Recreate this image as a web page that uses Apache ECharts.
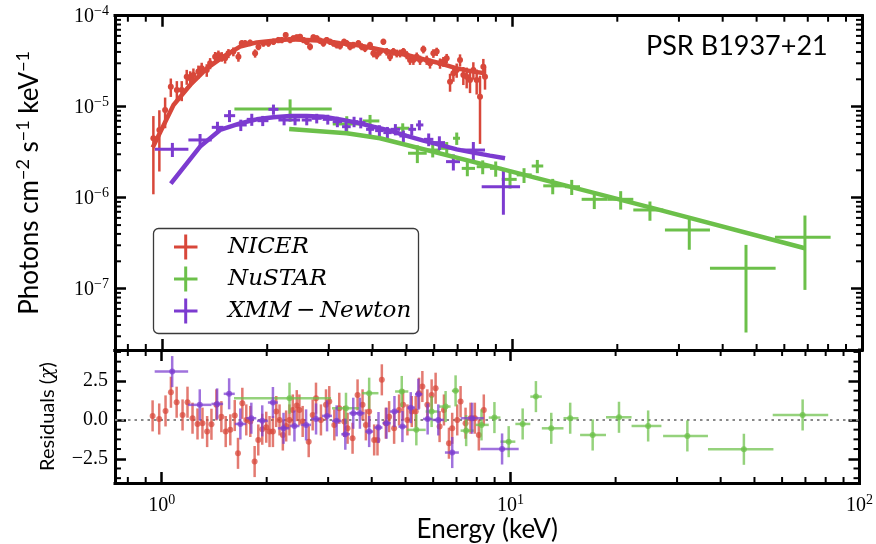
<!DOCTYPE html>
<html><head><meta charset="utf-8">
<script src="https://cdn.jsdelivr.net/npm/echarts@6/dist/echarts.min.js"></script>
<style>html,body{margin:0;padding:0;background:#fff}#c{width:876px;height:544px}</style>
</head><body><div id="c"></div>
<script>
// ---------------- data ----------------
const nicerE = [0.946,0.984,1.022,1.061,1.104,1.140,1.178,1.205,1.231,1.272,1.300,1.344,1.374,1.420,1.451,1.483,1.516,1.550,1.601,1.655,1.692,1.729,1.787,1.847,1.888,1.951,2.016,2.084,2.153,2.201,2.259,2.325,2.376,2.429,2.483,2.537,2.594,2.651,2.710,2.770,2.831,2.894,2.958,3.024,3.091,3.159,3.229,3.316,3.374,3.449,3.525,3.643,3.724,3.806,3.933,4.020,4.109,4.201,4.294,4.389,4.486,4.586,4.688,4.791,4.898,5.006,5.117,5.231,5.347,5.465,5.586,5.710,5.836,5.966,6.098,6.233,6.371,6.512,6.657,6.804,6.955,7.109,7.266,7.427,7.592,7.760,7.932,8.108,8.287,8.379];
const nicerF = [4.49e-6,5.54e-6,9.20e-6,1.66e-5,1.53e-5,1.53e-5,2.14e-5,2.05e-5,2.23e-5,2.43e-5,
 2.64e-5,2.53e-5,3.00e-5,3.55e-5,3.70e-5,3.55e-5,3.40e-5,3.86e-5,4.03e-5,3.55e-5,
 4.97e-5,4.97e-5,5.05e-5,3.86e-5,4.57e-5,4.97e-5,4.97e-5,5.18e-5,5.41e-5,5.41e-5,
 6.14e-5,5.41e-5,5.64e-5,5.78e-5,5.88e-5,5.41e-5,5.18e-5,4.57e-5,5.78e-5,5.64e-5,
 5.32e-5,4.97e-5,5.41e-5,5.18e-5,4.97e-5,4.76e-5,4.65e-5,5.18e-5,4.97e-5,4.57e-5,
 4.76e-5,4.97e-5,4.57e-5,4.38e-5,4.76e-5,3.86e-5,3.70e-5,4.03e-5,5.18e-5,4.03e-5,
 3.55e-5,4.03e-5,3.86e-5,3.86e-5,4.03e-5,3.70e-5,3.26e-5,3.26e-5,3.55e-5,3.26e-5,
 4.27e-5,3.26e-5,3.00e-5,3.86e-5,4.03e-5,3.00e-5,3.13e-5,3.40e-5,1.88e-5,2.33e-5,
 2.53e-5,3.26e-5,2.23e-5,2.14e-5,1.96e-5,2.53e-5,1.96e-5,1.29e-5,2.75e-5,2.14e-5];
const nicerErr = [3.4e-6,3.6e-6,3.4e-6,3.8e-6,3.8e-6,3.8e-6,4.0e-6,4.0e-6,4.0e-6,4.0e-6,
 4.0e-6,4.0e-6,4.2e-6,4.4e-6,4.4e-6,4.3e-6,4.2e-6,4.4e-6,4.5e-6,4.3e-6,
 4.2e-6,4.2e-6,4.2e-6,4.0e-6,4.0e-6,4.2e-6,4.2e-6,4.2e-6,4.3e-6,4.3e-6,
 4.4e-6,4.3e-6,4.3e-6,4.3e-6,4.3e-6,4.2e-6,4.2e-6,4.0e-6,4.3e-6,4.3e-6,
 4.2e-6,4.1e-6,4.2e-6,4.1e-6,4.1e-6,4.0e-6,4.0e-6,4.1e-6,4.1e-6,4.0e-6,
 4.0e-6,4.1e-6,4.0e-6,4.0e-6,4.0e-6,3.8e-6,3.8e-6,3.9e-6,4.1e-6,3.9e-6,
 3.8e-6,3.9e-6,3.8e-6,3.8e-6,3.9e-6,3.8e-6,3.8e-6,3.8e-6,3.9e-6,3.8e-6,
 4.2e-6,3.8e-6,3.8e-6,4.2e-6,4.2e-6,3.9e-6,3.9e-6,4.0e-6,4.2e-6,4.5e-6,
 4.5e-6,5.0e-6,5.0e-6,5.5e-6,5.5e-6,5.5e-6,6.0e-6,9.0e-6,6.0e-6,6.0e-6];

const nicerResE = [0.942,0.984,1.026,1.063,1.104,1.148,1.186,1.226,1.267,1.309,1.350,1.389,1.435,1.483,1.526,1.573,1.620,1.655,1.703,1.748,1.795,1.847,1.892,1.942,1.994,2.038,2.084,2.130,2.177,2.225,2.274,2.324,2.376,2.439,2.482,2.536,2.639,2.709,2.769,2.861,2.958,3.023,3.125,3.229,3.337,3.411,3.525,3.643,3.765,3.848,3.933,4.065,4.155,4.276,4.390,4.486,4.637,4.791,4.919,5.062,5.209,5.347,5.466,5.587,5.774,5.940,6.098,6.260,6.442,6.658,6.803,7.033,7.190,7.429,7.678,7.900,8.110,8.380];
const nicerRes = [0.26,0.06,0.58,1.78,1.14,0.32,1.14,0.11,-0.26,-0.21,
 -0.75,-0.28,0.97,0.21,-0.75,-0.64,0.28,-2.15,1.07,0.00,
 -0.10,-2.68,-1.29,-0.60,-0.47,-0.75,-0.75,0.54,0.00,-0.97,
 -0.39,0.00,0.64,0.92,0.64,-0.10,-1.40,0.32,1.40,0.00,
 0.97,1.18,-0.32,0.75,-0.10,-0.54,-1.18,1.61,0.97,-0.32,
 0.54,-1.29,-1.29,2.58,-0.21,0.21,-0.54,0.64,0.97,0.00,
 0.54,0.54,1.72,2.15,0.97,1.61,2.04,-0.43,0.64,-1.50,
 -0.54,0.00,1.18,-0.21,0.11,0.11,-0.97,0.64];

const xmmE   = [1.072,1.286,1.442,1.561,1.681,1.807,1.942,2.084,2.235,2.402,2.594,2.770,2.979,3.173,3.360,3.541,3.700,3.933,4.183,4.409,4.647,4.898,5.174,5.442,5.785,6.206,6.804,7.760,9.455];
const xmmELo = [0.955,1.191,1.389,1.506,1.620,1.748,1.876,2.016,2.153,2.325,2.510,2.680,2.881,3.077,3.272,3.449,3.604,3.832,4.067,4.294,4.506,4.770,5.062,5.324,5.610,5.966,6.484,7.190,8.197];
const xmmEHi = [1.191,1.389,1.500,1.620,1.748,1.867,2.016,2.153,2.325,2.483,2.680,2.862,3.077,3.272,3.464,3.643,3.815,4.040,4.294,4.536,4.791,5.040,5.324,5.586,5.966,6.442,7.109,8.379,10.55];
const xmmF   = [3.40e-6,4.31e-6,5.93e-6,7.97e-6,6.30e-6,7.26e-6,7.02e-6,9.35e-6,7.14e-6,7.14e-6,7.14e-6,7.45e-6,7.26e-6,6.85e-6,6.03e-6,6.85e-6,6.68e-6,5.64e-6,5.46e-6,5.19e-6,5.64e-6,4.77e-6,5.64e-6,6.30e-6,4.38e-6,4.03e-6,2.49e-6,3.34e-6,1.32e-6];
const xmmErr = [0.6e-6,0.7e-6,0.9e-6,1.2e-6,0.9e-6,1.1e-6,0.9e-6,1.2e-6,0.9e-6,0.9e-6,0.9e-6,0.9e-6,0.9e-6,0.9e-6,0.8e-6,0.9e-6,0.9e-6,0.8e-6,0.8e-6,0.8e-6,0.8e-6,0.7e-6,0.8e-6,0.8e-6,0.7e-6,0.7e-6,0.5e-6,0.75e-6,0.67e-6];
const xmmRes = [3.11,0.97,1.03,1.68,-0.26,0.11,-0.06,1.12,-0.54,-0.39,-0.32,0.06,0.26,-0.06,-0.92,0.43,0.43,-0.75,-0.49,-0.21,0.54,-0.43,0.79,1.65,0.06,0.00,-2.10,0.11,-1.87];

const nustarE   = [2.325,3.375,3.933,4.877,5.369,5.940,6.513,6.957,7.459,8.253,8.989,9.876,10.83,11.82,13.08,14.82,17.19,20.45,24.79,32.11,46.63,68.71];
const nustarELo = [1.612,3.078,3.750,4.667,5.050,5.711,6.233,6.789,7.190,7.934,8.659,9.352,10.32,11.39,12.29,14.18,15.82,18.77,22.22,27.36,36.79,56.40];
const nustarEHi = [3.058,3.684,4.182,5.093,5.711,6.233,6.731,7.109,7.845,8.659,9.352,10.32,11.39,12.29,14.18,15.65,18.77,22.22,27.06,36.79,56.66,81.35];
const nustarF   = [9.43e-6,6.46e-6,6.97e-6,5.80e-6,3.08e-6,3.34e-6,3.49e-6,4.50e-6,2.10e-6,2.19e-6,2.10e-6,1.59e-6,1.78e-6,2.23e-6,1.35e-6,1.32e-6,9.60e-7,9.60e-7,7.33e-7,4.42e-7,1.68e-7,3.67e-7];
const nustarErr = [2.6e-6,1.4e-6,1.15e-6,0.77e-6,0.68e-6,0.57e-6,0.6e-6,0.7e-6,0.38e-6,0.38e-6,0.4e-6,0.33e-6,0.33e-6,0.37e-6,0.26e-6,0.25e-6,0.21e-6,0.22e-6,0.175e-6,0.174e-6,0.135e-6,0.27e-6];
const nustarRes = [1.40,0.75,1.72,1.83,-0.64,0.54,0.86,1.87,-0.69,-0.32,0.15,-1.40,-0.26,1.50,-0.54,0.11,-0.97,0.17,-0.39,-1.03,-1.89,0.32];

const nicerModelE = [0.942,1.080,1.205,1.344,1.500,1.673,1.867,2.084,2.325,2.594,2.894,3.229,3.603,4.020,4.486,5.006,5.586,6.233,6.955,7.760,8.379];
const nicerModelF = [3.57e-6,1.045e-5,1.73e-5,2.64e-5,3.55e-5,4.57e-5,5.09e-5,5.32e-5,5.50e-5,5.41e-5,5.32e-5,4.97e-5,4.77e-5,4.38e-5,4.02e-5,3.70e-5,3.32e-5,3.00e-5,2.64e-5,2.43e-5,2.33e-5];
const xmmModelE = [1.061,1.286,1.467,1.673,1.867,2.084,2.325,2.594,2.894,3.229,3.603,4.020,4.486,5.006,5.586,6.233,6.955,7.760,8.658,9.559];
const xmmModelF = [1.43e-6,3.64e-6,5.55e-6,6.56e-6,7.26e-6,7.64e-6,7.91e-6,7.91e-6,7.77e-6,7.26e-6,6.68e-6,6.03e-6,5.46e-6,4.77e-6,4.24e-6,3.80e-6,3.40e-6,3.13e-6,2.90e-6,2.71e-6];
const nustarModelE = [2.311,3.375,4.20,9.56,24.8,68.7];
const nustarModelF = [5.69e-6,5.10e-6,4.50e-6,2.02e-6,7.84e-7,2.78e-7];

// tick values
const xMinorTicks = [0.8,0.9,2,3,4,5,6,7,8,9,20,30,40,50,60,70,80,90];
const yMinorTicks = [3e-8,4e-8,5e-8,6e-8,7e-8,8e-8,9e-8,2e-7,3e-7,4e-7,5e-7,6e-7,7e-7,8e-7,9e-7,2e-6,3e-6,4e-6,5e-6,6e-6,7e-6,8e-6,9e-6,2e-5,3e-5,4e-5,5e-5,6e-5,7e-5,8e-5,9e-5];
const resMajorTicks = [-2.5,0,2.5];
const resMinorTicks = [-3.75,-3.125,-1.875,-1.25,-0.625,0.625,1.25,1.875,3.125,3.75,4.375];
const seriesNames = ['NICER','NuSTAR','XMM\u2009\u2212\u2009Newton'];

// ---------------- layout / style ----------------
const X_MIN = 0.735, X_MAX = 100, Y_MIN = 2.12e-8, Y_MAX = 1e-4, R_MIN = -4.06, R_MAX = 4.5;
const RED = '#d8473a', GREEN = '#6cc04a', PURPLE = '#7c3bd0';
const RED_A = 'rgba(216,71,58,0.72)', GREEN_A = 'rgba(108,192,74,0.72)', PURPLE_A = 'rgba(124,59,208,0.72)';
const SERIF = 'Liberation Serif', SANS = 'Lato';

const chart = echarts.init(document.getElementById('c'), null, {renderer: 'canvas'});

const spine = {show: true, onZero: false, lineStyle: {color: '#000', width: 3, cap: 'square'}};
const majorTick = {show: true, inside: true, length: 11, lineStyle: {color: '#000', width: 2.5}};
function powLabel(v) {
  const l = Math.log10(v), p = Math.round(l);
  if (Math.abs(l - p) > 1e-6) return '';
  return '{b|10}{s|' + (p < 0 ? '\u2212' : '') + Math.abs(p) + '}';
}
const powRich = {
  b: {fontFamily: SERIF, fontSize: 20, color: '#000', verticalAlign: 'bottom'},
  s: {fontFamily: SERIF, fontSize: 14, color: '#000', verticalAlign: 'bottom', padding: [0, 0, 9, 0]}
};
function xLog(grid, pos, labels) {
  const a = {type: 'log', logBase: 10, gridIndex: grid, position: pos, min: X_MIN, max: X_MAX,
    axisLine: spine, axisTick: majorTick, splitLine: {show: false}, minorTick: {show: false},
    axisLabel: {show: false}};
  if (labels) {
    a.axisLabel = {show: true, margin: 10, formatter: powLabel, rich: powRich};
    a.name = 'Energy (keV)'; a.nameLocation = 'middle'; a.nameGap = 19;
    a.nameTextStyle = {fontFamily: SANS, fontSize: 26, color: '#000', verticalAlign: 'top'};
  }
  return a;
}
const xAxes = [xLog(0, 'bottom', false), xLog(0, 'top', false), xLog(1, 'bottom', true), xLog(1, 'top', false)];

function yLog(pos, labels) {
  const a = {type: 'log', logBase: 10, gridIndex: 0, position: pos, min: Y_MIN, max: Y_MAX,
    axisLine: spine, axisTick: majorTick, splitLine: {show: false}, minorTick: {show: false},
    axisLabel: {show: false}};
  if (labels) {
    a.axisLabel = {show: true, margin: 6, formatter: powLabel, rich: powRich};
    a.name = '{n|Photons cm}{s|\u22122}{n| s}{s|\u22121}{n| keV}{s|\u22121}';
    a.nameLocation = 'middle'; a.nameGap = 72; a.nameRotate = 90;
    a.nameTextStyle = {rich: {
      n: {fontFamily: SANS, fontSize: 26, color: '#000', verticalAlign: 'bottom'},
      s: {fontFamily: SANS, fontSize: 18, color: '#000', verticalAlign: 'bottom', padding: [0, 0, 11, 0]}
    }};
  }
  return a;
}
function yRes(pos, labels) {
  const a = {type: 'value', gridIndex: 1, position: pos, min: R_MIN, max: R_MAX,
    axisLine: spine, axisTick: Object.assign({}, majorTick, {customValues: resMajorTicks}),
    splitLine: {show: false}, axisLabel: {show: false}};
  if (labels) {
    a.axisLabel = {show: true, margin: 7, customValues: resMajorTicks, fontFamily: SERIF, fontSize: 20, color: '#000',
      formatter: v => (v < 0 ? '\u2212' : '') + Math.abs(v).toFixed(1)};
    a.name = '{n|Residuals (}{i|\u03c7}{n|)}';
    a.nameLocation = 'middle'; a.nameGap = 57; a.nameRotate = 90;
    a.nameTextStyle = {rich: {
      n: {fontFamily: SANS, fontSize: 20, color: '#000'},
      i: {fontFamily: 'DejaVu Serif', fontStyle: 'italic', fontSize: 19, color: '#000'}
    }};
  }
  return a;
}
const yAxes = [yLog('left', true), yLog('right', false), yRes('left', true), yRes('right', false)];

function errRender(color, lw, r, floor) {
  return function (params, api) {
    const e = api.value(0), f = api.value(1), lo = api.value(2), hi = api.value(3), s = api.value(4);
    const c = api.coord([e, f]);
    const top = api.coord([e, f + s])[1];
    const bot = api.coord([e, floor === null ? f - s : Math.max(f - s, floor)])[1];
    const ch = [{type: 'line', shape: {x1: c[0], y1: top, x2: c[0], y2: bot}, style: {stroke: color, lineWidth: lw}}];
    if (hi > lo) {
      const xl = api.coord([lo, f])[0], xh = api.coord([hi, f])[0];
      ch.push({type: 'line', shape: {x1: xl, y1: c[1], x2: xh, y2: c[1]}, style: {stroke: color, lineWidth: lw}});
    }
    if (r > 0) ch.push({type: 'circle', shape: {cx: c[0], cy: c[1], r: r}, style: {fill: color}});
    return {type: 'group', children: ch};
  };
}
function errSeries(name, grid, data, render, z) {
  return {type: 'custom', name: name, xAxisIndex: grid * 2, yAxisIndex: grid * 2, data: data,
    encode: {x: 0, y: 1}, renderItem: render, silent: true, z: z, animation: false};
}
function tickSeries(grid, xt, yt, xRef, yRef) {
  const kinds = [], data = [];
  xt.forEach(v => { kinds.push('x'); data.push([v, yRef]); });
  yt.forEach(v => { kinds.push('y'); data.push([xRef, v]); });
  return {type: 'custom', xAxisIndex: grid * 2, yAxisIndex: grid * 2, data: data, silent: true, z: 20,
    encode: {x: 0, y: 1},
    renderItem: function (params, api) {
      const cs = params.coordSys, k = kinds[params.dataIndex];
      const p = api.coord([api.value(0), api.value(1)]);
      const L = 6, segs = k === 'x'
        ? [[p[0], cs.y + cs.height, p[0], cs.y + cs.height - L], [p[0], cs.y, p[0], cs.y + L]]
        : [[cs.x, p[1], cs.x + L, p[1]], [cs.x + cs.width, p[1], cs.x + cs.width - L, p[1]]];
      return {type: 'group', children: segs.map(s => ({type: 'line',
        shape: {x1: s[0], y1: s[1], x2: s[2], y2: s[3]}, style: {stroke: '#000', lineWidth: 2}}))};
    }};
}
function modelSeries(name, E, F, color) {
  return {type: 'line', name: name, xAxisIndex: 0, yAxisIndex: 0, data: E.map((e, i) => [e, F[i]]),
    showSymbol: false, symbol: 'none', lineStyle: {color: color, width: 4.5}, silent: true, z: 8, animation: false};
}

const series = [
  errSeries(seriesNames[0], 0, nicerE.map((e, i) => [e, nicerF[i], e, e, nicerErr[i]]), errRender(RED, 2.5, 3, Y_MIN), 3),
  errSeries(seriesNames[1], 0, nustarE.map((e, i) => [e, nustarF[i], nustarELo[i], nustarEHi[i], nustarErr[i]]), errRender(GREEN, 3, 0, Y_MIN), 4),
  errSeries(seriesNames[2], 0, xmmE.map((e, i) => [e, xmmF[i], xmmELo[i], xmmEHi[i], xmmErr[i]]), errRender(PURPLE, 3, 0, Y_MIN), 5),
  modelSeries('NICER model', nicerModelE, nicerModelF, RED),
  modelSeries('NuSTAR model', nustarModelE, nustarModelF, GREEN),
  modelSeries('XMM model', xmmModelE, xmmModelF, PURPLE),
  tickSeries(0, xMinorTicks, yMinorTicks, 1, 1e-6),
  {type: 'line', xAxisIndex: 2, yAxisIndex: 2, data: [[X_MIN, 0], [X_MAX, 0]], showSymbol: false, symbol: 'none',
    lineStyle: {color: '#888', width: 2, type: [2.5, 4]}, silent: true, z: 2, animation: false},
  errSeries('NICER res', 1, nicerResE.map((e, i) => [e, nicerRes[i], e, e, 1]), errRender(RED_A, 2.5, 3, null), 3),
  errSeries('NuSTAR res', 1, nustarE.map((e, i) => [e, nustarRes[i], nustarELo[i], nustarEHi[i], 1]), errRender(GREEN_A, 2.5, 3, null), 4),
  errSeries('XMM res', 1, xmmE.map((e, i) => [e, xmmRes[i], xmmELo[i], xmmEHi[i], 1]), errRender(PURPLE_A, 2.5, 3, null), 5),
  tickSeries(1, xMinorTicks, resMinorTicks, 1, 0)
];

// legend drawn as graphic (box, error-bar crosses, italic math-style names)
const legendColors = [RED, GREEN, PURPLE];
const legendY = [247, 279, 311];
const graphic = [{type: 'rect', shape: {x: 153.5, y: 228.5, width: 265, height: 105, r: 5},
  style: {fill: '#fff', stroke: '#3a3a3a', lineWidth: 1.3}, z: 100}];
seriesNames.forEach((n, i) => {
  const cy = legendY[i];
  graphic.push({type: 'line', shape: {x1: 174, y1: cy, x2: 197.5, y2: cy}, style: {stroke: legendColors[i], lineWidth: 3}, z: 101});
  graphic.push({type: 'line', shape: {x1: 185.7, y1: cy - 12.5, x2: 185.7, y2: cy + 12.5}, style: {stroke: legendColors[i], lineWidth: 3}, z: 101});
  graphic.push({type: 'text', x: 228, y: cy, style: {text: n, fill: '#000', font: 'italic 23px "DejaVu Serif"',
    textAlign: 'left', textVerticalAlign: 'middle'}, z: 101});
});
graphic.push({type: 'text', x: 646, y: 46, style: {text: 'PSR B1937+21', fill: '#000', font: '27px Lato',
  textAlign: 'left', textVerticalAlign: 'middle'}, z: 101});

chart.setOption({
  animation: false,
  backgroundColor: '#fff',
  grid: [
    {left: 115, top: 15.7, width: 747, height: 334.3},
    {left: 115, top: 350, width: 747, height: 133}
  ],
  xAxis: xAxes,
  yAxis: yAxes,
  series: series,
  graphic: graphic
});
</script></body></html>
